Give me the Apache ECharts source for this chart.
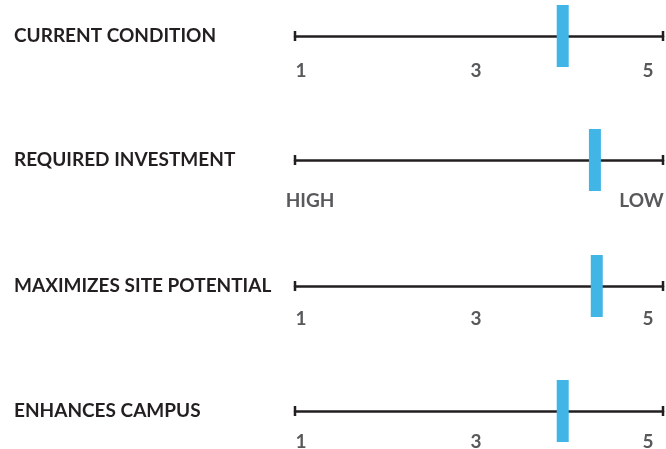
<!DOCTYPE html>
<html><head><meta charset="utf-8">
<script src="https://cdn.jsdelivr.net/npm/echarts@6/dist/echarts.min.js"></script>
<style>html,body{margin:0;padding:0;background:#fff}#c{width:666px;height:449px}</style>
</head><body><div id="c"></div>
<script>
const categories = ['CURRENT CONDITION', 'REQUIRED INVESTMENT', 'MAXIMIZES SITE POTENTIAL', 'ENHANCES CAMPUS'];
const scores = [3.91, 4.26, 4.28, 3.91];
const numberTicks = [1, 3, 5];
const rangeTicks = [1, 5];
const rangeTickText = {1: 'HIGH', 5: 'LOW'};

const lineY = [36, 160, 286, 411];
const labelMargin = [25, 31, 23, 21];
const barColor = '#41b6e6';
const ink = '#231f20';
const tickInk = '#58595b';

const grids = [], xAxes = [], yAxes = [], series = [];
const tickFont = {fontFamily: 'Lato', fontWeight: 'bold', fontSize: 19, color: tickInk};
categories.forEach((cat, i) => {
  const isRange = i === 1;
  grids.push({left: 295, width: 368, top: lineY[i] - 31, height: 31, outerBoundsMode: 'none', containLabel: false});
  xAxes.push({
    type: 'value', gridIndex: i, min: 1, max: 5, position: 'bottom',
    axisLine: {show: true, onZero: false, lineStyle: {color: ink, width: 2.5},
      symbol: ['rect', 'rect'], symbolSize: [10, 2.5]},
    axisTick: {show: false},
    splitLine: {show: false},
    axisLabel: Object.assign({
      customValues: isRange ? rangeTicks : numberTicks,
      margin: labelMargin[i],
      align: 'center',
      formatter: v => {
        if (isRange) return v === 1 ? '{h|' + rangeTickText[v] + '}' : '{l|' + rangeTickText[v] + '}';
        if (v === 1) return '{a|' + v + '}';
        if (v === 3) return '{b|' + v + '}';
        return '{c|' + v + '}';
      },
      rich: {
        a: Object.assign({padding: [0, 0, 0, 12]}, tickFont),
        b: Object.assign({padding: [0, 6, 0, 0]}, tickFont),
        c: Object.assign({padding: [0, 30, 0, 0]}, tickFont),
        h: Object.assign({padding: [0, 0, 0, 30]}, tickFont),
        l: Object.assign({padding: [0, 43, 0, 0]}, tickFont)
      }
    }, tickFont)
  });
  yAxes.push({
    type: 'value', gridIndex: i, min: 0, max: 1,
    axisLine: {show: false}, axisTick: {show: false}, splitLine: {show: false},
    axisLabel: {
      customValues: [0], formatter: () => cat,
      align: 'left', verticalAlign: 'middle', margin: 281,
      fontFamily: 'Lato', fontWeight: 'bold', fontSize: 19, color: ink
    }
  });
  series.push({
    type: 'scatter', xAxisIndex: i, yAxisIndex: i, clip: false,
    symbol: 'rect', symbolSize: [12, 62],
    itemStyle: {color: barColor, opacity: 1},
    data: [[scores[i], 0]], silent: true, z: 5
  });
});

const chart = echarts.init(document.getElementById('c'), null, {renderer: 'canvas'});
chart.setOption({animation: false, grid: grids, xAxis: xAxes, yAxis: yAxes, series});
</script></body></html>
